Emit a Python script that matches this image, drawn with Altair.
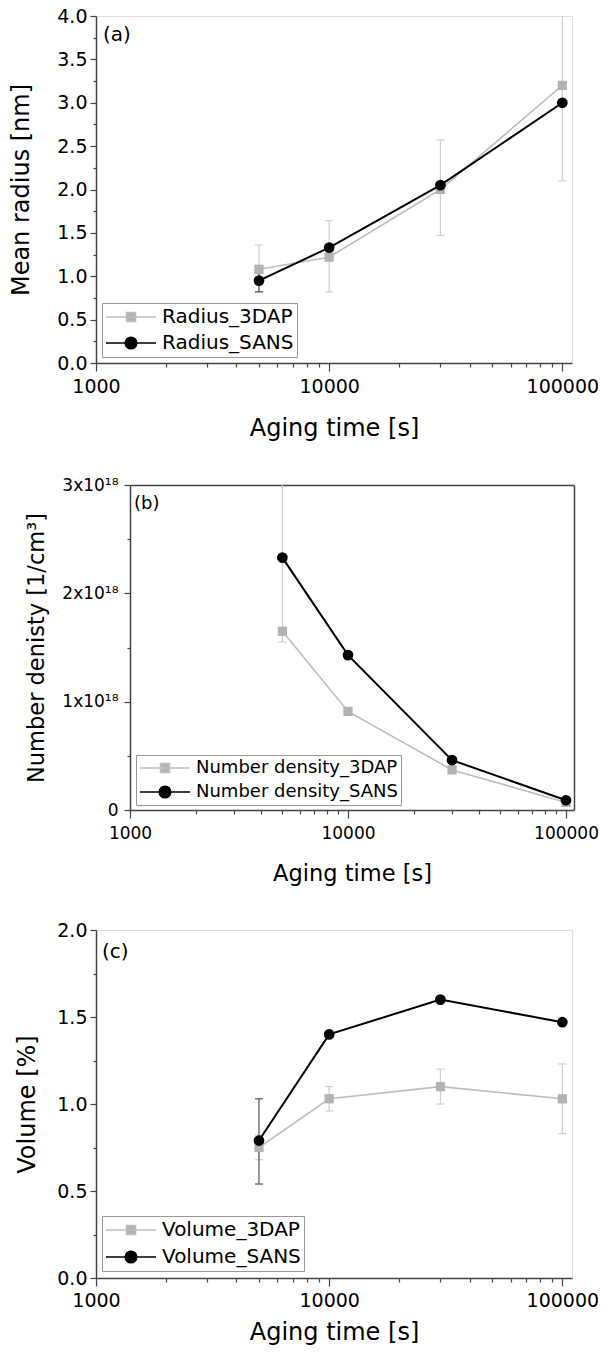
import altair as alt
import pandas as pd

# ---------------- data ----------------
time_s = [5000, 10000, 30000, 100000]

radius_3dap = [1.08, 1.22, 2.00, 3.20]
radius_3dap_lo = [0.82, 0.82, 1.47, 2.10]
radius_3dap_hi = [1.36, 1.64, 2.57, 4.40]
radius_sans = [0.95, 1.33, 2.05, 3.00]
radius_sans_lo = [0.82, None, None, None]
radius_sans_hi = [1.08, None, None, None]

# number density in units of 1e18 1/cm^3
density_3dap = [1.65, 0.91, 0.37, 0.07]
density_3dap_lo = [1.55, None, None, None]
density_3dap_hi = [3.30, None, None, None]
density_sans = [2.33, 1.43, 0.46, 0.09]
density_sans_lo = [None, None, None, None]
density_sans_hi = [None, None, None, None]

volume_3dap = [0.75, 1.03, 1.10, 1.03]
volume_3dap_lo = [0.68, 0.96, 1.00, 0.83]
volume_3dap_hi = [0.82, 1.10, 1.20, 1.23]
volume_sans = [0.79, 1.40, 1.60, 1.47]
volume_sans_lo = [0.54, None, None, None]
volume_sans_hi = [1.03, None, None, None]

x_ticks = [1000, 2000, 3000, 4000, 5000, 6000, 7000, 8000, 9000,
           10000, 20000, 30000, 40000, 50000, 60000, 70000, 80000, 90000, 100000]
y_ticks_a = [0, 0.25, 0.5, 0.75, 1.0, 1.25, 1.5, 1.75, 2.0, 2.25, 2.5, 2.75, 3.0, 3.25, 3.5, 3.75, 4.0]
y_ticks_b = [0, 0.5, 1.0, 1.5, 2.0, 2.5, 3.0]
y_ticks_c = [0, 0.25, 0.5, 0.75, 1.0, 1.25, 1.5, 1.75, 2.0]

panel_letters = ["(a)", "(b)", "(c)"]
legend_a = ["Radius_3DAP", "Radius_SANS"]
legend_b = ["Number density_3DAP", "Number density_SANS"]
legend_c = ["Volume_3DAP", "Volume_SANS"]

# ---------------- styles ----------------
FONT = "DejaVu Sans"
GRAY_LINE = "#bdbdbd"
GRAY_MARK = "#b2b2b2"
GRAY_ERR = "#cdcdcd"
DARK_ERR = "#555555"
FRAME = "#444444"

SQUARE_PATH = "M-1,0H1M-0.18,-0.18H0.18V0.18H-0.18Z"
CIRCLE_PATH = "M-1,0H1M-0.23,0A0.23,0.23,0,1,0,0.23,0A0.23,0.23,0,1,0,-0.23,0Z"

INDEP = dict(fill="independent", stroke="independent", shape="independent")


def err_frames(lo, hi):
    rows, caps = [], []
    for t, a, b in zip(time_s, lo, hi):
        if a is None or b is None:
            continue
        rows.append({"t": t, "lo": a, "hi": b})
        caps.append({"t": t, "v": a})
        caps.append({"t": t, "v": b})
    return pd.DataFrame(rows, columns=["t", "lo", "hi"]), pd.DataFrame(caps, columns=["t", "v"])


def make_panel(v3, lo3, hi3, vs, los, his, names, letter, ydom, yticks, ylabel_expr,
               ymajor_test, ytitle, width, height, xmax, tick_fs, title_fs, legend_fs,
               y_extent, y_lpad, y_tpad, x_lpad, x_tpad, leg_clip, leg_rowpad, leg_x, leg_y,
               letter_x, letter_y, letter_fs, shift=0):
    full_w = width + shift
    xscale = alt.Scale(type="log", domain=[1000, xmax], nice=False, range=[shift, full_w])
    yscale = alt.Scale(domain=ydom, nice=False, zero=True)
    common = dict(labelFont=FONT, titleFont=FONT, labelColor="black", titleColor="black",
                  titleFontWeight="normal", domainColor=FRAME, domainWidth=1.5,
                  tickColor=FRAME, tickWidth=1.2, grid=False, labelOverlap=False,
                  labelFlush=False, labelFontSize=tick_fs, titleFontSize=title_fs)
    xaxis = alt.Axis(values=x_ticks,
                     labelExpr="indexof([1000, 10000, 100000], datum.value) >= 0 ? format(datum.value, 'd') : ''",
                     tickSize={"condition": {"test": "indexof([1000, 10000, 100000], datum.value) >= 0", "value": 8}, "value": 4},
                     labelPadding=x_lpad, titlePadding=x_tpad, **common)
    ykw = dict(values=yticks, labelExpr=ylabel_expr,
               tickSize={"condition": {"test": ymajor_test, "value": 6}, "value": 3},
               labelPadding=y_lpad, titlePadding=y_tpad, minExtent=y_extent, maxExtent=y_extent,
               **common)
    if shift:
        ykw["offset"] = -shift
    yaxis = alt.Axis(**ykw)

    # with a shifted plot the axes are independent, so only the first layer carries them
    x_default = None if shift else xaxis
    y_default = None if shift else yaxis

    def X(axis="default"):
        return alt.X("t:Q", scale=xscale, axis=x_default if axis == "default" else axis,
                     title="Aging time [s]")

    def Y(field, axis="default"):
        return alt.Y(field, scale=yscale, axis=y_default if axis == "default" else axis,
                     title=ytitle)

    d3 = pd.DataFrame({"t": time_s, "v": v3})
    ds = pd.DataFrame({"t": time_s, "v": vs})
    e3, c3 = err_frames(lo3, hi3)
    es, cs = err_frames(los, his)

    layers = []
    layers.append(alt.Chart(d3).mark_line(color=GRAY_LINE, strokeWidth=1.6)
                  .encode(x=X(xaxis), y=Y("v:Q", yaxis)))
    if len(e3):
        layers.append(alt.Chart(e3).mark_rule(color=GRAY_ERR, strokeWidth=1.2, clip=True)
                      .encode(x=X(), y=Y("lo:Q"), y2="hi:Q"))
        layers.append(alt.Chart(c3).mark_tick(color=GRAY_ERR, orient="horizontal", size=8,
                                              thickness=1.2, clip=True, opacity=1)
                      .encode(x=X(), y=Y("v:Q")))
    if len(es):
        layers.append(alt.Chart(es).mark_rule(color=DARK_ERR, strokeWidth=1.2, clip=True)
                      .encode(x=X(), y=Y("lo:Q"), y2="hi:Q"))
        layers.append(alt.Chart(cs).mark_tick(color=DARK_ERR, orient="horizontal", size=8,
                                              thickness=1.2, clip=True, opacity=1)
                      .encode(x=X(), y=Y("v:Q")))
    layers.append(alt.Chart(d3).mark_point(shape="square", filled=True, size=85, color=GRAY_MARK,
                                           opacity=1).encode(x=X(), y=Y("v:Q")))
    layers.append(alt.Chart(ds).mark_line(color="black", strokeWidth=2).encode(x=X(), y=Y("v:Q")))
    layers.append(alt.Chart(ds).mark_circle(size=115, color="black", opacity=1).encode(x=X(), y=Y("v:Q")))

    if shift:
        # frame (top and right edges) drawn as domain-only axes
        frame_ax = dict(domain=True, ticks=False, labels=False, title=None, grid=False,
                        domainColor=FRAME, domainWidth=1.5)
        layers.append(alt.Chart(d3).mark_point(opacity=0)
                      .encode(x=X(alt.Axis(orient="top", **frame_ax)),
                              y=Y("v:Q", alt.Axis(orient="right", **frame_ax))))

    leg = alt.Legend(title=None, orient="none", legendX=leg_x + shift, legendY=leg_y, padding=3,
                     strokeColor="#999999", fillColor="white", symbolSize=2500,
                     symbolStrokeWidth=1.6, clipHeight=leg_clip, rowPadding=leg_rowpad,
                     labelFont=FONT, labelFontSize=legend_fs, labelColor="black",
                     labelOffset=5, labelLimit=400)
    legdf = pd.DataFrame({"t": [5000, 5000], "v": [1, 1], "series": names})
    layers.append(alt.Chart(legdf).transform_filter("false").mark_point(opacity=1, filled=True)
                  .encode(x=X(), y=Y("v:Q"),
                          fill=alt.Fill("series:N", scale=alt.Scale(domain=names, range=[GRAY_MARK, "black"]), legend=leg),
                          stroke=alt.Stroke("series:N", scale=alt.Scale(domain=names, range=[GRAY_LINE, "black"]), legend=leg),
                          shape=alt.Shape("series:N", scale=alt.Scale(domain=names, range=[SQUARE_PATH, CIRCLE_PATH]), legend=leg)))
    layers.append(alt.Chart(pd.DataFrame({"label": [letter]})).mark_text(
        align="left", baseline="middle", font=FONT, fontSize=letter_fs, color="black")
        .encode(x=alt.value(letter_x + shift), y=alt.value(letter_y), text="label:N"))

    ch = alt.layer(*layers).properties(width=full_w, height=height)
    if shift:
        ch = (ch.resolve_axis(x="independent", y="independent")
              .properties(view=alt.ViewBackground(stroke="transparent")))
    return ch


dec_expr = "datum.value % 0.5 == 0 ? format(datum.value, '.1f') : ''"
sci_expr = "datum.value == 0 ? '0' : (datum.value % 1 == 0 ? format(datum.value, 'd') + 'x10¹⁸' : '')"

panel_a = make_panel(radius_3dap, radius_3dap_lo, radius_3dap_hi, radius_sans, radius_sans_lo,
                     radius_sans_hi, legend_a, panel_letters[0], [0, 4], y_ticks_a, dec_expr,
                     "datum.value % 0.5 == 0", "Mean radius [nm]", 476, 347, 110000,
                     19, 24, 20, 39, 3, 24, 6, 20, 22, 4, 6, 287, 7, 19, 20)

panel_b = make_panel(density_3dap, density_3dap_lo, density_3dap_hi, density_sans, density_sans_lo,
                     density_sans_hi, legend_b, panel_letters[1], [0, 3], y_ticks_b, sci_expr,
                     "datum.value % 1 == 0", "Number denisty [1/cm³]", 444, 325, 108800,
                     17, 22.5, 18, 70, 6, 12, 7, 21, 20, 4, 6, 270, 4, 19, 18, shift=34)

panel_c = make_panel(volume_3dap, volume_3dap_lo, volume_3dap_hi, volume_sans, volume_sans_lo,
                     volume_sans_hi, legend_c, panel_letters[2], [0, 2], y_ticks_c, dec_expr,
                     "datum.value % 0.5 == 0", "Volume [%]", 476, 348, 110000,
                     19, 24, 20, 39, 3, 18, 5, 10, 22, 5, 6, 286, 6, 22, 20)

lower = (alt.vconcat(panel_b, panel_c, spacing=35)
         .resolve_scale(**INDEP).resolve_legend(**INDEP))

chart = (alt.vconcat(panel_a, lower, spacing=34)
         .resolve_scale(**INDEP).resolve_legend(**INDEP)
         .properties(padding={"left": 8, "top": 6, "right": 0, "bottom": 5})
         .configure_view(stroke=FRAME, strokeWidth=1.5)
         .configure(background="white"))

chart.save("out.html", embed_options={"renderer": "svg", "actions": False})
